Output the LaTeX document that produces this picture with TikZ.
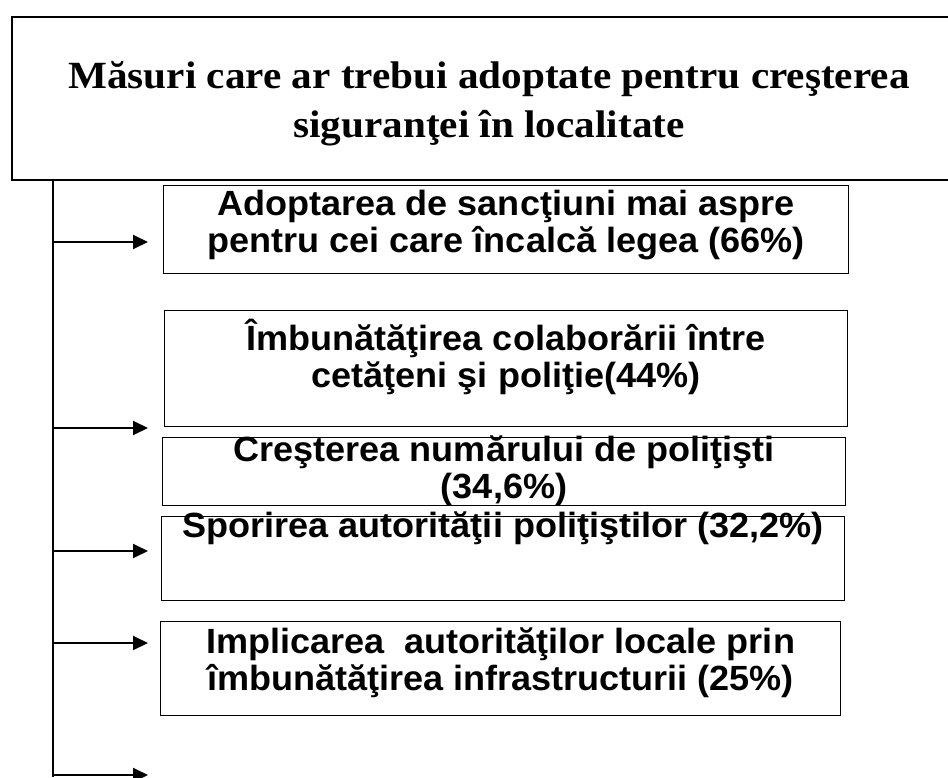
\documentclass[tikz,border=0pt]{standalone}
\usepackage{fontspec}
\setmainfont{Liberation Serif}
\setsansfont{Liberation Sans}
\newfontfamily\titlefamily[FakeStretch=1.07]{Liberation Serif}
\newfontfamily\boxfamily[FakeStretch=1.03]{Liberation Sans}
\usetikzlibrary{arrows.meta}

\begin{document}
\begin{tikzpicture}[x=1pt, y=-1pt,
    optbox/.style={draw, line width=1.1pt, anchor=north west, inner sep=0pt,
      minimum width=683pt, align=center,
      font=\boxfamily\bfseries\fontsize{35}{37}\selectfont}]
  \useasboundingbox (0,0) rectangle (948,778);

  \node [draw, line width=2pt, anchor=north west, inner sep=0pt,
    minimum width=954pt, minimum height=163pt, align=center,
    text height=80pt, text depth=1pt,
    font=\titlefamily\bfseries\fontsize{38.5}{49}\selectfont]
    (title) at (11,16) {Măsuri care ar trebui adoptate pentru creşterea\\siguranţei în localitate};

  \node [optbox, minimum width=685pt, minimum height=88pt, text height=50pt, text depth=4pt] (sanctiuni) at (163,185)
    {Adoptarea de sancţiuni mai aspre\\pentru cei care încalcă legea (66\%)};
  \node [optbox, minimum height=116pt, text height=40pt, text depth=2pt] (colaborare) at (164,310)
    {Îmbunătăţirea colaborării între\\cetăţeni şi poliţie(44\%)};
  \node [optbox, minimum height=68pt, text height=56pt, text depth=2pt] (numar) at (162,437)
    {Creşterea numărului de poliţişti\\(34,6\%)};
  \node [optbox, minimum height=84pt, text height=10pt, text depth=52pt] (autoritate) at (161,516)
    {Sporirea autorităţii poliţiştilor (32,2\%)};
  \node [optbox, minimum width=680pt, minimum height=94pt, text height=46pt, text depth=2pt] (infrastructura) at (160,621)
    {Implicarea\ \ autorităţilor locale prin\\îmbunătăţirea infrastructurii (25\%)};

  \coordinate (bottom) at (53,777);
  \draw [line width=2pt] (title.south -| bottom) -- (bottom);

  \foreach \y [count=\i] in {242,428,551,643,775} {
    \coordinate (from\i) at (53,\y);
    \coordinate (to\i) at (148,\y);
    \draw [line width=2pt, -{Triangle[length=15pt,width=14pt]}] (from\i) -- (to\i);
  }
\end{tikzpicture}
\end{document}
